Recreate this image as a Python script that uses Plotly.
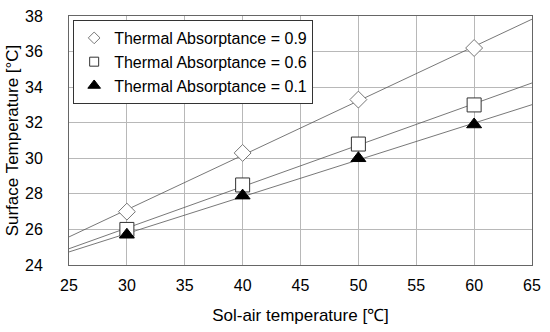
import numpy as np
import plotly.graph_objects as go

sol_air = [30, 40, 50, 60]
ta_09 = [27.0, 30.3, 33.3, 36.2]
ta_06 = [26.0, 28.5, 30.8, 33.0]
ta_01 = [25.7, 27.9, 30.0, 31.9]
names = ["Thermal Absorptance = 0.9", "Thermal Absorptance = 0.6", "Thermal Absorptance = 0.1"]
x_ticks = [25, 30, 35, 40, 45, 50, 55, 60, 65]
y_ticks = [24, 26, 28, 30, 32, 34, 36, 38]

fig = go.Figure()
trend_x = np.array([25, 65])
for ys in [ta_09, ta_06, ta_01]:
    m, b = np.polyfit(sol_air, ys, 1)
    fig.add_trace(go.Scatter(x=trend_x, y=m * trend_x + b, mode="lines",
                             line=dict(color="#555555", width=0.8), showlegend=False,
                             hoverinfo="skip"))

symbols = ["diamond", "square", "triangle-up"]
fills = ["white", "white", "black"]
edges = ["#777777", "#333333", "black"]
plot_sizes = [13, 14, 13]
legend_sizes = [9, 9, 11]
for ys, nm, sym, fc, ec, ps, ls in zip([ta_09, ta_06, ta_01], names, symbols, fills, edges,
                                         plot_sizes, legend_sizes):
    fig.add_trace(go.Scatter(x=sol_air, y=ys, mode="markers", name=nm, showlegend=False,
                             marker=dict(symbol=sym, size=ps, color=fc,
                                         line=dict(color=ec, width=1))))
    fig.add_trace(go.Scatter(x=[None], y=[None], mode="markers", name=nm, showlegend=True,
                             marker=dict(symbol=sym, size=ls, color=fc,
                                         line=dict(color=ec, width=1))))

fig.update_layout(
    width=550, height=332,
    margin=dict(l=69, r=18, t=16, b=67),
    paper_bgcolor="white", plot_bgcolor="white",
    font=dict(family="Liberation Sans, Arial, sans-serif", size=15, color="black"),
    showlegend=True,
    legend=dict(x=0.009, y=0.984, xanchor="left", yanchor="top",
                bordercolor="#333333", borderwidth=1, bgcolor="white",
                font=dict(size=16), tracegroupgap=0, itemwidth=30),
    xaxis=dict(range=[25, 65], tickvals=x_ticks, showgrid=True, gridcolor="#b8b8b8",
               gridwidth=1, zeroline=False, showline=True, linecolor="#666666",
               mirror=True, ticks="", ticklabelstandoff=6, automargin=False,
               title=dict(text="Sol-air temperature [℃]", standoff=15, font=dict(size=17)),
               tickfont=dict(size=16)),
    yaxis=dict(range=[24, 38], tickvals=y_ticks, showgrid=True, gridcolor="#b8b8b8",
               gridwidth=1, zeroline=False, showline=True, linecolor="#666666",
               mirror=True, ticks="", ticklabelstandoff=22, automargin=False,
               title=dict(text="Surface Temperature [°C]", standoff=2, font=dict(size=17)),
               tickfont=dict(size=16)),
)
fig.write_html("out.html", config={"displayModeBar": False},
               post_script="document.body.style.margin='0px';")
